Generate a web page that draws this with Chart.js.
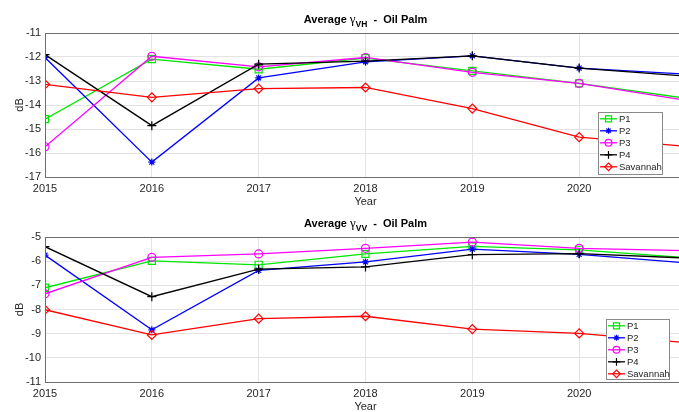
<!DOCTYPE html>
<html>
<head>
<meta charset="utf-8">
<script src="https://cdn.jsdelivr.net/npm/chart.js@4/dist/chart.umd.min.js"></script>
<style>
  body { margin: 0; background: #fff; overflow: hidden; }
  #wrap { position: relative; width: 679px; height: 412px; overflow: hidden; }
  canvas { position: absolute; left: 0; }
</style>
</head>
<body>
<div id="wrap">
  <canvas id="vh" width="700" height="212" style="top:0"></canvas>
  <canvas id="vv" width="700" height="214" style="top:200px"></canvas>
</div>
<script>
Chart.defaults.font.family = "'Liberation Sans', Arial, sans-serif"
Chart.defaults.devicePixelRatio = 1

const years = [2015, 2016, 2017, 2018, 2019, 2020, 2021]
const names = ['P1', 'P2', 'P3', 'P4', 'Savannah']

// gamma VH, dB
const vhP1 = [-14.59, -12.09, -12.51, -12.05, -12.58, -13.10, -13.72]
const vhP2 = [-12.02, -16.38, -12.87, -12.20, -11.95, -12.46, -12.71]
const vhP3 = [-15.74, -11.97, -12.41, -12.02, -12.64, -13.10, -13.81]
const vhP4 = [-11.90, -14.86, -12.30, -12.17, -11.95, -12.46, -12.80]
const vhSav = [-13.14, -13.68, -13.32, -13.27, -14.15, -15.34, -15.72]

// gamma VV, dB
const vvP1 = [-7.10, -5.99, -6.15, -5.70, -5.39, -5.53, -5.85]
const vvP2 = [-5.75, -8.84, -6.38, -6.03, -5.50, -5.72, -6.07]
const vvP3 = [-7.35, -5.84, -5.70, -5.47, -5.21, -5.47, -5.56]
const vvP4 = [-5.40, -7.47, -6.33, -6.24, -5.73, -5.69, -5.87]
const vvSav = [-8.01, -9.05, -8.38, -8.28, -8.81, -8.99, -9.37]

// y axis limits
const vhRange = [-17, -11]
const vvRange = [-11, -5]

// line colour, marker style, marker radius
const styles = [
  {color: '#00e600', point: 'rect', r: 5},
  {color: '#0000ff', point: 'star', r: 3.5},
  {color: '#ff00ff', point: 'circle', r: 4},
  {color: '#000000', point: 'cross', r: 4.5},
  {color: '#ff0000', point: 'rectRot', r: 4.5},
]

const textColor = '#262626'
const gridColor = '#e3e3e3'
const axisColor = '#6e6e6e'

const makeDatasets = (series) => series.map((vals, i) => ({
  label: names[i],
  data: vals.map((v, k) => ({x: years[k], y: v})),
  borderColor: styles[i].color,
  backgroundColor: 'rgba(0,0,0,0)',
  borderWidth: 1.3,
  pointStyle: styles[i].point,
  pointRadius: styles[i].r,
  pointBorderColor: styles[i].color,
  pointBorderWidth: 1.2,
  order: series.length - i,
}))

// title with greek letter + subscript, plot box and boxed legend
const decorate = {
  id: 'decorate',
  afterDraw(chart, args, opts) {
    const ctx = chart.ctx
    const a = chart.chartArea
    ctx.save()
    // box around plot
    ctx.strokeStyle = axisColor
    ctx.lineWidth = 1
    ctx.strokeRect(a.left + 0.5, a.top + 0.5, a.right - a.left, a.bottom - a.top)

    // title
    const parts = [
      {t: 'Average ', f: 'bold 11px "Liberation Sans", Arial', dy: 0},
      {t: 'γ', f: '13px "Liberation Serif", "DejaVu Serif", serif', dy: 0},
      {t: opts.sub, f: 'bold 8.5px "Liberation Sans", Arial', dy: 4},
      {t: '  -  Oil Palm', f: 'bold 11px "Liberation Sans", Arial', dy: 0},
    ]
    let total = 0
    parts.forEach(p => { ctx.font = p.f; p.w = ctx.measureText(p.t).width; total += p.w })
    let x = (a.left + a.right) / 2 - total / 2
    const base = a.top - 10.5
    ctx.fillStyle = '#000'
    ctx.textBaseline = 'alphabetic'
    ctx.textAlign = 'left'
    parts.forEach(p => { ctx.font = p.f; ctx.fillText(p.t, x, base + p.dy); x += p.w })

    // legend
    const L = opts.legend
    ctx.fillStyle = '#fff'
    ctx.fillRect(L.x, L.y, L.w, L.h)
    ctx.strokeStyle = '#8a8a8a'
    ctx.strokeRect(L.x + 0.5, L.y + 0.5, L.w, L.h)
    ctx.font = '9.5px "Liberation Sans", Arial'
    ctx.textBaseline = 'middle'
    names.forEach((name, i) => {
      const y = L.y + 6.8 + i * 12
      const s = styles[i]
      ctx.strokeStyle = s.color
      ctx.lineWidth = 1.3
      ctx.beginPath()
      ctx.moveTo(L.x + 2, y)
      ctx.lineTo(L.x + 19, y)
      ctx.stroke()
      ctx.lineWidth = 1.2
      ctx.fillStyle = 'rgba(0,0,0,0)'
      Chart.helpers.drawPoint(ctx, {pointStyle: s.point, radius: s.r * 0.85, rotation: 0, borderWidth: 1.2}, L.x + 10.5, y)
      ctx.fillStyle = textColor
      ctx.fillText(name, L.x + 21, y + 0.5)
    })
    ctx.restore()
  }
}

const makeChart = (id, series, range, sub, legend, areaTop, areaBottom, yearPad) => {
  let canvas = document.getElementById(id)
  return new Chart(canvas, {
    type: 'line',
    data: {datasets: makeDatasets(series)},
    plugins: [decorate],
    options: {
      responsive: false,
      animation: false,
      layout: {padding: {top: areaTop, right: 14, left: 0, bottom: 0}},
      plugins: {
        legend: {display: false},
        tooltip: {enabled: false},
        decorate: {sub: sub, legend: legend},
      },
      scales: {
        x: {
          type: 'linear',
          min: years[0],
          max: years[years.length - 1],
          afterBuildTicks: s => { s.ticks = s.ticks.filter(t => t.value < years[years.length - 1]) },
          afterFit: s => { s.height = canvas.height - areaBottom },
          ticks: {stepSize: 1, padding: 5, color: textColor, font: {size: 11}, callback: v => String(v)},
          grid: {color: gridColor, drawTicks: false},
          border: {color: axisColor},
          title: {display: true, text: 'Year', color: textColor, font: {size: 11}, padding: {top: 0, bottom: yearPad}},
        },
        y: {
          min: range[0],
          max: range[1],
          afterFit: s => { s.width = 45 },
          ticks: {stepSize: 1, padding: 4, color: textColor, font: {size: 11}},
          grid: {color: gridColor, drawTicks: false},
          border: {color: axisColor},
          title: {display: true, text: 'dB', color: textColor, font: {size: 11}, padding: {top: 13, bottom: 0}},
        }
      }
    }
  })
}

makeChart('vh', [vhP1, vhP2, vhP3, vhP4, vhSav], vhRange, 'VH', {x: 598, y: 112, w: 64, h: 62}, 33, 177, 3)
makeChart('vv', [vvP1, vvP2, vvP3, vvP4, vvSav], vvRange, 'VV', {x: 606, y: 119, w: 63, h: 60}, 37, 182, 0)
</script>
</body>
</html>
